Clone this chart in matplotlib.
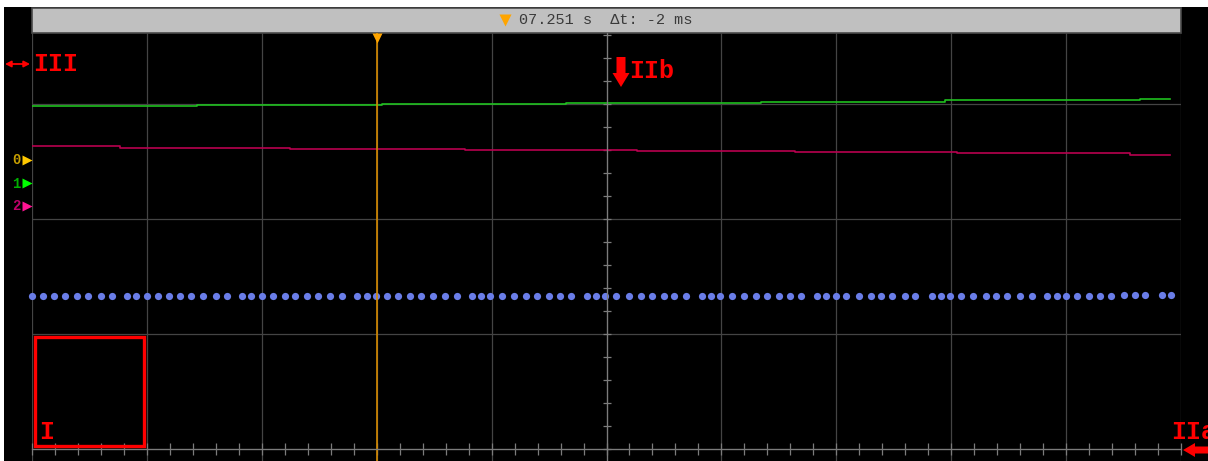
import matplotlib
matplotlib.use("Agg")
import matplotlib.pyplot as plt
from matplotlib.patches import Rectangle, Polygon
from matplotlib.ticker import MultipleLocator

plt.rcParams["font.family"] = ["Liberation Mono", "DejaVu Sans Mono"]

# traces, in screen divisions (x: 10 div across, y: 0 at the bottom axis)
ch1_t = [0.000, 1.436, 3.046, 4.648, 6.345, 7.946, 9.643, 9.904]
ch1_v = [2.980, 2.990, 3.000, 3.007, 3.019, 3.031, 3.040, 3.040]
ch2_t = [0.000, 0.766, 2.245, 3.768, 5.265, 6.640, 8.050, 9.556, 9.904]
ch2_v = [2.632, 2.620, 2.609, 2.600, 2.591, 2.580, 2.570, 2.559, 2.559]

sample_t = [
    0.000, 0.098, 0.191, 0.290, 0.392, 0.490, 0.598, 0.699, 0.829, 0.908,
    1.001, 1.094, 1.190, 1.288, 1.386, 1.488, 1.599, 1.700, 1.828, 1.909,
    1.999, 2.100, 2.199, 2.292, 2.391, 2.492, 2.594, 2.698, 2.829, 2.913,
    2.997, 3.092, 3.188, 3.290, 3.388, 3.490, 3.597, 3.696, 3.827, 3.908,
    3.989, 4.088, 4.195, 4.300, 4.395, 4.497, 4.598, 4.694, 4.828, 4.909,
    4.990, 5.085, 5.198, 5.300, 5.399, 5.500, 5.590, 5.689, 5.831, 5.909,
    5.990, 6.090, 6.199, 6.298, 6.397, 6.499, 6.597, 6.690, 6.832, 6.910,
    6.995, 7.087, 7.198, 7.299, 7.385, 7.485, 7.598, 7.687, 7.830, 7.909,
    7.990, 8.088, 8.187, 8.300, 8.390, 8.488, 8.599, 8.701, 8.831, 8.918,
    8.999, 9.092, 9.199, 9.298, 9.388, 9.501, 9.600, 9.689, 9.832, 9.910,
]
sample_v = [
    1.330, 1.330, 1.330, 1.330, 1.330, 1.330, 1.330, 1.330, 1.330, 1.330,
    1.330, 1.330, 1.330, 1.330, 1.330, 1.330, 1.330, 1.330, 1.330, 1.330,
    1.330, 1.330, 1.330, 1.330, 1.330, 1.330, 1.330, 1.330, 1.330, 1.330,
    1.330, 1.330, 1.330, 1.330, 1.330, 1.330, 1.330, 1.330, 1.330, 1.330,
    1.330, 1.330, 1.330, 1.330, 1.330, 1.330, 1.330, 1.330, 1.330, 1.330,
    1.330, 1.330, 1.330, 1.330, 1.330, 1.330, 1.330, 1.330, 1.330, 1.330,
    1.330, 1.330, 1.330, 1.330, 1.330, 1.330, 1.330, 1.330, 1.330, 1.330,
    1.330, 1.330, 1.330, 1.330, 1.330, 1.330, 1.330, 1.330, 1.330, 1.330,
    1.330, 1.330, 1.330, 1.330, 1.330, 1.330, 1.330, 1.330, 1.330, 1.330,
    1.330, 1.330, 1.330, 1.330, 1.330, 1.343, 1.343, 1.343, 1.343, 1.343,
]

cursor_t = 3.0
cursor_text = "07.251 s  Δt: -2 ms"
channel_names = ["0", "1", "2"]
channel_text_colors = ["#c8a000", "#00b000", "#c0006a"]
channel_mark_colors = ["#ffc800", "#00ff00", "#ff1493"]

W, H = 1208, 461
fig = plt.figure(figsize=(W / 100, H / 100), dpi=100, facecolor="white")

# background layer in pixel units: black screen + grey status bar
bg = fig.add_axes([0, 0, 1, 1], zorder=0)
bg.set_xlim(0, W); bg.set_ylim(H, 0); bg.axis("off")
bg.add_patch(Rectangle((4, 7), W - 4, H - 7, facecolor="black", edgecolor="none"))
bg.add_patch(Rectangle((32, 8), 1149, 25.5, facecolor="#c0c0c0",
                       edgecolor="#4a4a4a", lw=1.2))
bg.plot([505], [20.5], marker="v", ms=8, color="#ffa500", mec="none")
bg.text(519, 20.5, cursor_text, fontsize=11, color="#3a3a3a",
        ha="left", va="center")

# scope screen
ax = fig.add_axes([32 / W, 0, 1149 / W, 428 / H], zorder=1)
ax.set_facecolor("none")
ax.set_xlim(0, 10)
ax.set_ylim(-0.1043, 3.6174)
ax.xaxis.set_major_locator(MultipleLocator(1))
ax.xaxis.set_minor_locator(MultipleLocator(0.2))
ax.yaxis.set_major_locator(MultipleLocator(1))
ax.yaxis.set_minor_locator(MultipleLocator(0.2))
ax.grid(True, which="major", color="#444444", lw=0.9)
ax.set_axisbelow(True)
for s in ("top", "right"):
    ax.spines[s].set_visible(False)
ax.spines["bottom"].set_position(("data", 0))
ax.spines["left"].set_position(("data", 5))
for s in ("bottom", "left"):
    ax.spines[s].set_color("#7c7c7c")
    ax.spines[s].set_linewidth(0.9)
ax.tick_params(axis="x", which="both", direction="inout", length=8,
               width=0.9, color="#7c7c7c", labelbottom=False)
ax.tick_params(axis="y", which="both", direction="inout", length=6,
               width=0.9, color="#7c7c7c", labelleft=False)

ax.plot(ch1_t, ch1_v, drawstyle="steps-post", color="#1fc01f", lw=1.2)
ax.plot(ch2_t, ch2_v, drawstyle="steps-post", color="#b8004f", lw=1.2)
ax.plot(sample_t, sample_v, ls="none", marker="o", ms=5.2,
        color="#6a7de8", mec="none", clip_on=False)

ax.axvline(cursor_t, color="#d68a00", lw=1.2)
ax.plot([cursor_t], [3.617 - 0.045], marker="v", ms=7, color="#ffa500",
        mec="none", clip_on=False)

# annotations on top, pixel units
fg = fig.add_axes([0, 0, 1, 1], zorder=2)
fg.set_xlim(0, W); fg.set_ylim(H, 0); fg.axis("off")
fg.patch.set_alpha(0)

red = "#ff0000"
lab = dict(color=red, fontsize=18, fontweight="bold", va="center", ha="left")
fg.annotate("", xy=(5, 64), xytext=(30, 64),
            arrowprops=dict(arrowstyle="<|-|>,head_length=0.35,head_width=0.18",
                            color=red, lw=1.3, shrinkA=0, shrinkB=0))
fg.text(33, 64, "III", **lab)
fg.add_patch(Polygon([(616.5, 57), (625.5, 57), (625.5, 73), (629.5, 73),
                      (621, 87), (612.5, 73), (616.5, 73)],
                     closed=True, facecolor=red, edgecolor="none"))
fg.text(629, 71, "IIb", **lab)
fg.add_patch(Rectangle((35, 337), 109, 109, facecolor="none",
                       edgecolor=red, lw=2.4))
fg.text(39, 432, "I", **lab)
fg.text(1171, 432, "IIa", **lab)
fg.add_patch(Polygon([(1183, 450), (1195, 443), (1195, 446.5), (1208, 446.5),
                      (1208, 453.5), (1195, 453.5), (1195, 457)],
                     closed=True, facecolor=red, edgecolor="none"))

for name, tc, mc, y in zip(channel_names, channel_text_colors,
                           channel_mark_colors, [160, 183.5, 206]):
    fg.text(12.5, y, name, color=tc, fontsize=10, fontweight="bold",
            ha="left", va="center")
    fg.plot([27], [y], marker=">", ms=7, color=mc, mec="none")

fig.savefig("out.png", dpi=100, facecolor="white")
